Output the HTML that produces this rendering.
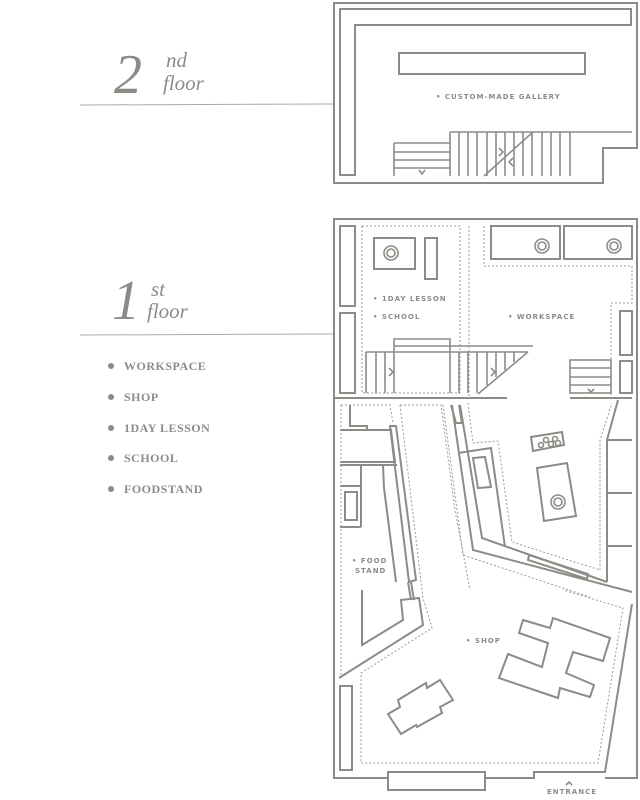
<!DOCTYPE html>
<html><head><meta charset="utf-8"><style>
html,body{margin:0;padding:0;background:#fff;}
svg{display:block;}
.w{fill:none;stroke:#8c8c86;stroke-width:2;}
.t{fill:none;stroke:#8c8c86;stroke-width:1.6;}
.d{fill:none;stroke:#9a9a94;stroke-width:1;stroke-dasharray:2 2;}
.lb{font-family:"DejaVu Sans","Liberation Sans",sans-serif;font-size:7px;font-weight:bold;fill:#8c8c86;letter-spacing:1px;}
.serif{font-family:"Liberation Serif",serif;fill:#8c8c86;font-style:italic;}
.li{font-family:"Liberation Serif",serif;font-size:12px;font-weight:bold;fill:#8c8c86;letter-spacing:0.5px;}
</style></head><body>
<svg width="640" height="800" viewBox="0 0 640 800" xmlns="http://www.w3.org/2000/svg">
<!-- left headings -->
<text x="114" y="93" class="serif" font-size="56">2</text>
<text x="166" y="67" class="serif" font-size="21">nd</text>
<text x="163" y="90" class="serif" font-size="21">floor</text>
<line x1="80" y1="105" x2="333" y2="104" stroke="#aaa" stroke-width="1"/>
<text x="112" y="319" class="serif" font-size="56">1</text>
<text x="151" y="296" class="serif" font-size="21">st</text>
<text x="147" y="318" class="serif" font-size="21">floor</text>
<line x1="80" y1="335" x2="333" y2="334" stroke="#aaa" stroke-width="1"/>
<g fill="#8c8c86">
<circle cx="111" cy="366" r="3"/><circle cx="111" cy="397" r="3"/><circle cx="111" cy="428" r="3"/><circle cx="111" cy="458" r="3"/><circle cx="111" cy="489" r="3"/>
</g>
<text x="124" y="370" class="li">WORKSPACE</text>
<text x="124" y="401" class="li">SHOP</text>
<text x="124" y="432" class="li">1DAY LESSON</text>
<text x="124" y="462" class="li">SCHOOL</text>
<text x="124" y="493" class="li">FOODSTAND</text>

<!-- 2nd floor -->
<polygon class="w" points="334,3 637,3 637,148 603,148 603,183 334,183"/>
<polygon class="w" points="340,9 631,9 631,25 355,25 355,175 340,175"/>
<rect class="w" x="399" y="53" width="186" height="21"/>
<text x="436" y="99" class="lb">• CUSTOM-MADE GALLERY</text>
<g class="t">
<line x1="394" y1="143" x2="450" y2="143"/><line x1="394" y1="152" x2="450" y2="152"/>
<line x1="394" y1="160" x2="450" y2="160"/><line x1="394" y1="168" x2="450" y2="168"/>
<line x1="394" y1="143" x2="394" y2="176"/>
<line x1="450" y1="132" x2="632" y2="132"/>
<line x1="450" y1="132" x2="450" y2="176"/><line x1="459" y1="132" x2="459" y2="176"/>
<line x1="468" y1="132" x2="468" y2="176"/><line x1="477" y1="132" x2="477" y2="176"/>
<line x1="487" y1="132" x2="487" y2="176"/><line x1="496" y1="132" x2="496" y2="176"/>
<line x1="505" y1="132" x2="505" y2="176"/><line x1="514" y1="132" x2="514" y2="176"/>
<line x1="523" y1="132" x2="523" y2="176"/><line x1="532" y1="132" x2="532" y2="176"/>
<line x1="542" y1="132" x2="542" y2="176"/><line x1="551" y1="132" x2="551" y2="176"/>
<line x1="560" y1="132" x2="560" y2="176"/><line x1="570" y1="132" x2="570" y2="176"/>
<line x1="484" y1="176" x2="533" y2="132"/>
<polyline points="499,148 503,152 499,156"/><polyline points="513,158 509,162 513,166"/>
<polyline points="419,170 422,174 425,170"/>
</g>

<!-- 1st floor outer -->
<polyline class="w" points="388,778 334,778 334,219 637,219 637,778 605,778"/>
<polyline class="w" points="485,778 534,778 534,772 605,772 632,604"/>
<rect class="w" x="388" y="772" width="97" height="18"/>
<text x="547" y="794" class="lb">ENTRANCE</text>
<polyline class="t" points="566,785 569,782 572,785"/>
<rect class="w" x="340" y="226" width="15" height="80"/>
<rect class="w" x="340" y="313" width="15" height="80"/>
<rect class="w" x="340" y="686" width="12" height="84"/>

<!-- lesson area -->
<rect class="d" x="362" y="226" width="98" height="167"/>
<rect class="w" x="374" y="238" width="41" height="31"/>
<circle class="t" cx="391" cy="253" r="7"/><circle class="t" cx="391" cy="253" r="4"/>
<rect class="w" x="425" y="238" width="12" height="41"/>
<text x="373" y="301" class="lb">• 1DAY LESSON</text>
<text x="373" y="319" class="lb">• SCHOOL</text>
<!-- workspace -->
<rect class="w" x="491" y="226" width="69" height="33"/>
<rect class="w" x="564" y="226" width="68" height="33"/>
<circle class="t" cx="542" cy="246" r="7"/><circle class="t" cx="542" cy="246" r="4"/>
<circle class="t" cx="614" cy="246" r="7"/><circle class="t" cx="614" cy="246" r="4"/>
<polyline class="d" points="469,226 469,398"/>
<polyline class="d" points="484,226 484,266 632,266 632,303 611,303 611,398"/>
<text x="508" y="319" class="lb">• WORKSPACE</text>
<rect class="w" x="620" y="311" width="12" height="44"/>
<rect class="w" x="620" y="361" width="12" height="32"/>
<!-- stairs 1F -->
<g class="t">
<polyline points="394,393 394,339 450,339 450,393"/>
<line x1="394" y1="346" x2="533" y2="346"/>
<line x1="366" y1="352" x2="528" y2="352"/>
<line x1="366" y1="352" x2="366" y2="393"/><line x1="376" y1="352" x2="376" y2="393"/>
<line x1="385" y1="352" x2="385" y2="393"/>
<line x1="459" y1="352" x2="459" y2="393"/><line x1="468" y1="352" x2="468" y2="393"/>
<line x1="477" y1="352" x2="477" y2="393"/><line x1="487" y1="352" x2="487" y2="385"/>
<line x1="496" y1="352" x2="496" y2="377"/><line x1="505" y1="352" x2="505" y2="370"/>
<line x1="514" y1="352" x2="514" y2="362"/>
<line x1="528" y1="352" x2="478" y2="394"/>
<polyline points="389,368 393,372 389,376"/><polyline points="491,368 495,372 491,376"/>
<rect x="570" y="360" width="41" height="33"/>
<line x1="570" y1="368" x2="611" y2="368"/><line x1="570" y1="377" x2="611" y2="377"/><line x1="570" y1="385" x2="611" y2="385"/>
<polyline points="588,389 591,392 594,389"/>
</g>
<line class="w" x1="334" y1="398" x2="507" y2="398"/>
<line class="w" x1="570" y1="398" x2="632" y2="398"/>

<!-- food stand -->
<g class="w">
<polyline points="350,405 350,426 367,426 367,430"/>
<polyline points="340,430 391,430 395,462 340,462"/>
<polygon points="390,426 396,426 416,580 409,582"/>
<polyline points="340,465 397,465"/>
<polyline points="383,465 384,488 396,582"/>
<polyline points="361,465 361,527"/>
<polyline points="340,486 361,486"/><polyline points="340,527 361,527"/>
<rect x="345" y="492" width="12" height="28"/>
<polyline points="411,582 414,600"/><polyline points="408,582 411,600"/>
<polyline points="362,590 362,645 403,620 401,600 419,598 423,625 339,678"/>
<polyline points="451,405 456,423 462,423 459,405"/>
</g>
<text x="352" y="563" class="lb">• FOOD</text>
<text x="355" y="573" class="lb">STAND</text>
<polyline class="d" points="341,405 341,677"/>
<polyline class="d" points="341,405 390,405 393,423"/>
<polyline class="d" points="400,405 441,405 455,510 470,590"/>
<polyline class="d" points="400,405 423,598 432,628 361,673 361,763 598,763 623,608 563,590"/>
<polyline class="d" points="443,405 463,555 590,597"/>
<polyline class="d" points="468,403 473,443 498,441 512,542 600,570 600,440 612,403"/>

<!-- workspace lower -->
<g class="w">
<polyline points="452,405 473,550 632,592"/>
<polyline points="460,405 482,538 607,582"/>
<polyline points="458,453 491,448 505,547"/>
<polygon points="473,458 485,457 491,487 478,488"/>
<polygon points="529,555 588,574 587,579 528,560"/>
<polyline points="618,400 607,440 607,582"/>
<line x1="607" y1="440" x2="632" y2="440"/><line x1="607" y1="493" x2="632" y2="493"/><line x1="607" y1="546" x2="632" y2="546"/>
<polygon points="531,437 562,432 564,445 533,451"/>
<polygon points="537,468 567,463 576,516 544,521"/>
</g>
<g class="t">
<circle cx="541" cy="445" r="2.5"/><circle cx="546" cy="440" r="2.5"/><circle cx="551" cy="444" r="2.5"/><circle cx="555" cy="439" r="2.5"/><circle cx="558" cy="443" r="2.5"/>
<circle cx="558" cy="502" r="7"/><circle cx="558" cy="502" r="4"/>
</g>

<!-- shop -->
<text x="466" y="643" class="lb">• SHOP</text>
<polygon class="w" points="523,620 550,628 553,618 610,638 603,661 573,652 566,673 594,685 590,697 560,688 558,698 499,678 508,654 542,667 548,643 519,633"/>
<polygon class="w" points="388,714 400,707 398,700 426,683 427,688 440,680 453,700 440,707 442,713 417,727 416,725 401,734"/>
</svg>
</body></html>
